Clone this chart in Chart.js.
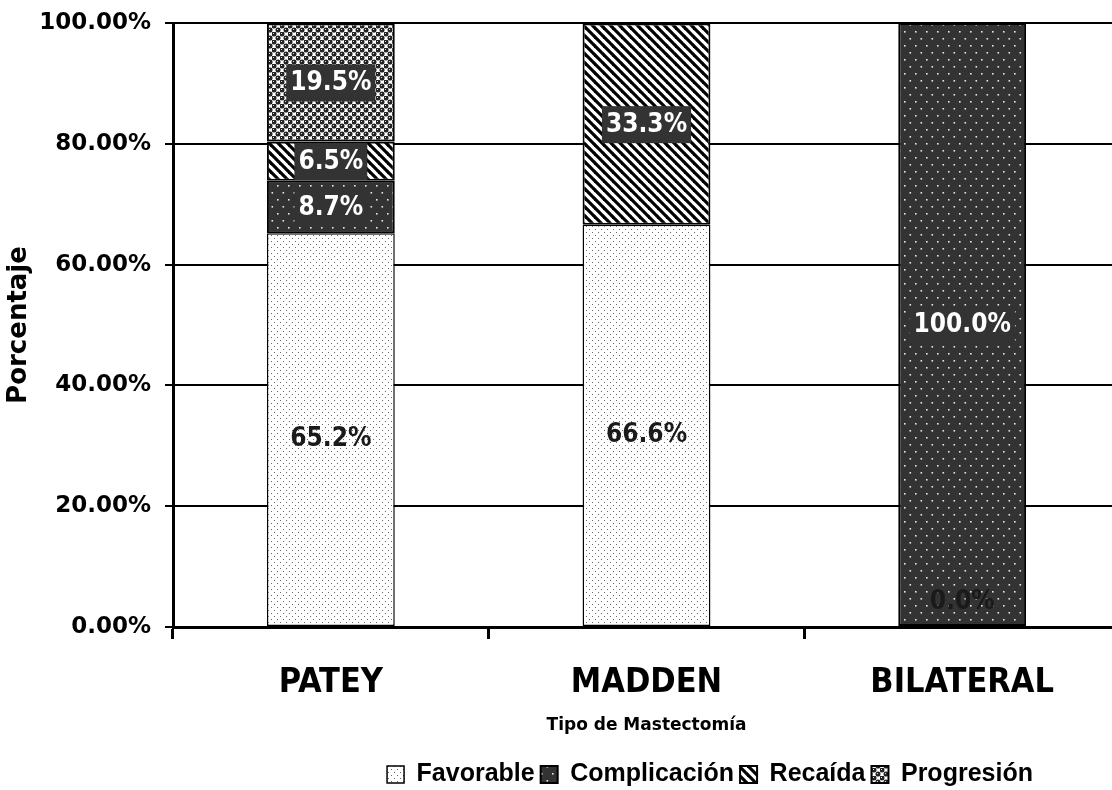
<!DOCTYPE html>
<html>
<head>
<meta charset="utf-8">
<script src="https://cdn.jsdelivr.net/npm/chart.js@4/dist/chart.umd.min.js"></script>
<style>
  html, body { margin: 0; padding: 0; background: #fff; overflow: hidden; }
  #wrap { width: 1120px; height: 790px; position: relative; }
</style>
</head>
<body>
<div id="wrap"><canvas id="c"></canvas></div>
<script>
// Outcome by mastectomy type (stacked percentages)
const categories = ['PATEY', 'MADDEN', 'BILATERAL'];
const favorable = [65.2, 66.6, 0];
const complicacion = [8.7, 0, 100];
const recaida = [6.5, 33.3, 0];
const progresion = [19.5, 0, 0];

// Value labels shown on the segments (null = not shown)
const favorableLabels = ['65.2%', '66.6%', '0.0%'];
const complicacionLabels = ['8.7%', null, '100.0%'];
const recaidaLabels = ['6.5%', '33.3%', null];
const progresionLabels = ['19.5%', null, null];

const seriesNames = ['Favorable', 'Complicación', 'Recaída', 'Progresión'];
const yTicks = [0, 20, 40, 60, 80, 100];

const NARROW = '"Liberation Sans Narrow", "DejaVu Sans Condensed", "Liberation Sans", sans-serif';
const HEAVY = '"DejaVu Sans", "Liberation Sans", sans-serif';
const SANS = '"Liberation Sans", Arial, sans-serif';

// Fill patterns for each series
function tile(w, h, paint) {
  const c = document.createElement('canvas');
  c.width = w; c.height = h;
  const g = c.getContext('2d');
  paint(g, w, h);
  return document.createElement('canvas').getContext('2d').createPattern(c, 'repeat');
}
const patFavorable = tile(6, 6, (g) => {
  g.fillStyle = '#fff'; g.fillRect(0, 0, 6, 6);
  g.fillStyle = '#6a6a6a';
  g.fillRect(1, 1, 1, 1); g.fillRect(4, 4, 1, 1);
});
const patComplicacion = tile(11, 14, (g) => {
  g.fillStyle = '#333'; g.fillRect(0, 0, 11, 14);
  g.fillStyle = '#e8e8e8';
  g.fillRect(2, 3, 1.6, 1.6); g.fillRect(7.5, 10, 1.6, 1.6);
});
const patRecaida = tile(9, 9, (g) => {
  g.fillStyle = '#fff'; g.fillRect(0, 0, 9, 9);
  g.strokeStyle = '#000'; g.lineWidth = 3.2;
  for (const k of [-9, 0, 9]) {
    g.beginPath(); g.moveTo(k - 1, -1); g.lineTo(k + 10, 10); g.stroke();
  }
});
const patProgresion = tile(8, 8, (g) => {
  g.fillStyle = '#fff'; g.fillRect(0, 0, 8, 8);
  g.fillStyle = '#222';
  const pts = [[2, 2], [6, 6], [10, 6], [-2, 6], [6, -2], [6, 10], [10, 10], [-2, -2], [-2, 10], [10, -2]];
  for (const [x, y] of pts) { g.beginPath(); g.arc(x, y, 2.5, 0, Math.PI * 2); g.fill(); }
  g.fillStyle = '#ddd';
  for (const [x, y] of pts) { g.fillRect(x - 1, y - 1, 1, 1); }
});

const seriesLabels = [favorableLabels, complicacionLabels, recaidaLabels, progresionLabels];

// Draws the value label of each segment at its centre
const segmentLabels = {
  id: 'segmentLabels',
  afterDatasetsDraw(chart) {
    const ctx = chart.ctx;
    ctx.save();
    ctx.font = 'bold 26px ' + NARROW;
    ctx.textAlign = 'center';
    ctx.textBaseline = 'middle';
    chart.data.datasets.forEach((ds, di) => {
      const meta = chart.getDatasetMeta(di);
      const labels = seriesLabels[di];
      meta.data.forEach((bar, i) => {
        const text = labels[i];
        if (!text) return;
        const p = bar.getProps(['x', 'y', 'base'], true);
        let cy = (p.y + p.base) / 2;
        if (ds.data[i] === 0) cy = p.base - 26;
        else if (di === 0) cy += 9;
        const w = ctx.measureText(text).width;
        if (di === 0) {
          ctx.fillStyle = '#1a1a1a';
        } else {
          ctx.fillStyle = '#333';
          ctx.fillRect(p.x - w / 2 - 4, cy - 18, w + 8, 37);
          ctx.fillStyle = '#fff';
        }
        ctx.fillText(text, p.x, cy + 1);
      });
    });
    ctx.restore();
  }
};

// Places the legend row under the plot, slightly right of centre
const legendShift = {
  id: 'legendShift',
  afterLayout(chart) {
    const lg = chart.legend;
    if (lg) { lg.left += 150; lg.right += 150; lg.top += 7; lg.bottom += 7; }
  }
};

const fills = [patFavorable, patComplicacion, patRecaida, patProgresion];
const values = [favorable, complicacion, recaida, progresion];

new Chart(document.getElementById('c'), {
  type: 'bar',
  data: {
    labels: categories,
    datasets: seriesNames.map((name, i) => ({
      label: name,
      data: values[i],
      backgroundColor: fills[i],
      borderColor: '#000',
      borderWidth: i === 0 ? 1.5 : 2,
      borderSkipped: false,
      barPercentage: 0.405,
      categoryPercentage: 1
    }))
  },
  options: {
    responsive: true,
    maintainAspectRatio: false,
    animation: false,
    events: [],
    layout: { padding: { left: 0, right: 0, top: 23, bottom: 0 } },
    plugins: {
      tooltip: { enabled: false },
      legend: {
        position: 'bottom',
        labels: {
          color: '#000',
          font: { family: SANS, size: 25, weight: 'bold' },
          boxWidth: 17,
          boxHeight: 17,
          padding: 6
        }
      }
    },
    scales: {
      x: {
        stacked: true,
        offset: true,
        grid: {
          display: true, drawOnChartArea: false, drawTicks: true,
          tickLength: 12, color: '#000', lineWidth: 3, offset: true
        },
        border: { display: true, color: '#000', width: 3 },
        ticks: {
          color: '#000', padding: 24,
          font: { family: NARROW, size: 34, weight: 'bold' }
        },
        title: {
          display: true, text: 'Tipo de Mastectomía', color: '#000',
          font: { family: HEAVY, size: 17, weight: 'bold' },
          padding: { top: 0, bottom: 13 }
        },
        afterFit(s) { s.height = 122; }
      },
      y: {
        stacked: true,
        min: 0,
        max: 100,
        afterBuildTicks(s) { s.ticks = yTicks.map(v => ({ value: v })); },
        ticks: {
          color: '#000', padding: 14,
          font: { family: HEAVY, size: 23, weight: 'bold' },
          callback: (v) => v.toFixed(2) + '%'
        },
        grid: { color: '#000', lineWidth: 2, tickLength: 8 },
        border: { display: true, color: '#000', width: 3 },
        title: {
          display: true, text: 'Porcentaje', color: '#000',
          font: { family: HEAVY, size: 26, weight: 'bold' },
          padding: { top: 4, bottom: 0 }
        },
        afterFit(s) {
          s.width = 173;
          s.paddingTop = 0;
          s.paddingBottom = 0;
        }
      }
    }
  },
  plugins: [segmentLabels, legendShift]
});
</script>
</body>
</html>
